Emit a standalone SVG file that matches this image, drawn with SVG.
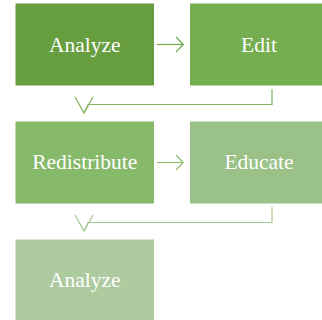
<svg xmlns="http://www.w3.org/2000/svg" width="322" height="320" viewBox="0 0 322 320">
<defs>
<style>
.box{stroke:#ffffff;stroke-width:1}
.lbl{font-family:'Liberation Serif','DejaVu Serif',serif;font-size:21.5px;fill:#ffffff;text-anchor:middle}
.con{fill:none;stroke-width:1.2}
</style>
</defs>
<rect width="322" height="320" fill="#ffffff"/>
<g id="node-analyze-1"><rect class="box" x="15" y="3" width="139.5" height="83" fill="#669e40"/><text class="lbl" x="84.75" y="52" style="font-family:'Liberation Serif','DejaVu Serif',serif">Analyze</text></g>
<g id="node-edit"><rect class="box" x="189.5" y="3" width="139.5" height="83" fill="#74ae4f"/><text class="lbl" x="259" y="52" style="font-family:'Liberation Serif','DejaVu Serif',serif">Edit</text></g>
<g id="node-redistribute"><rect class="box" x="15" y="121" width="139.5" height="83" fill="#87b96a"/><text class="lbl" x="84.75" y="169" style="font-family:'Liberation Serif','DejaVu Serif',serif">Redistribute</text></g>
<g id="node-educate"><rect class="box" x="189.5" y="121" width="139.5" height="83" fill="#9ac187"/><text class="lbl" x="259" y="169" style="font-family:'Liberation Serif','DejaVu Serif',serif">Educate</text></g>
<g id="node-analyze-2"><rect class="box" x="15" y="239" width="139.5" height="83" fill="#aecb9f"/><text class="lbl" x="84.75" y="287" style="font-family:'Liberation Serif','DejaVu Serif',serif">Analyze</text></g>
<g id="connectors">
<g stroke="#6fa94b" class="con">
<path d="M157 44.5H183"/><path d="M176 37L183.3 44.5L176 52"/>
</g>
<g stroke="#80b462" class="con">
<path d="M272 89V104.5H88"/><path d="M75 97L84 113L93 97"/><path d="M84 113L88 104.5"/>
</g>
<g stroke="#8fbd77" class="con">
<path d="M157 162.5H183"/><path d="M176 155L183.3 162.5L176 170"/>
</g>
<g stroke="#a4c893" class="con">
<path d="M272 207V222.5H88"/><path d="M75 215L84 231L93 215"/><path d="M84 231L88 222.5"/>
</g>
</g>
</svg>
